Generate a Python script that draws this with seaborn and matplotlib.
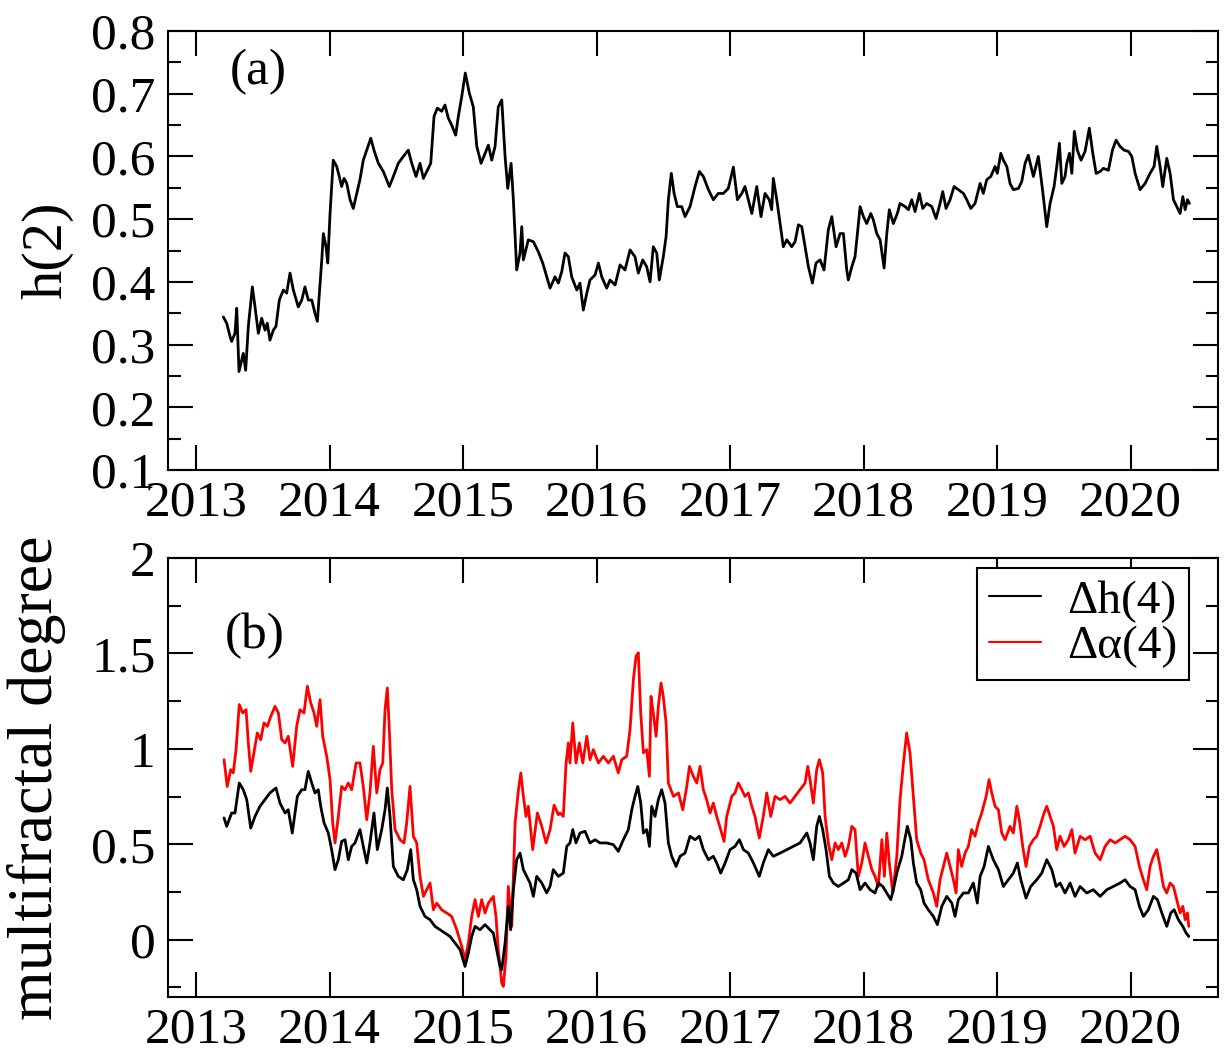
import numpy as np
import pandas as pd
import matplotlib
matplotlib.use("Agg")
import matplotlib.pyplot as plt
from matplotlib.ticker import MultipleLocator, FixedLocator, FuncFormatter
import seaborn as sns

# ---------------- data ----------------
h2_t = [2013.205, 2013.230, 2013.255, 2013.267, 2013.292, 2013.305, 2013.322, 2013.342, 2013.354, 2013.372,
        2013.392, 2013.422, 2013.442, 2013.467, 2013.492, 2013.517, 2013.534, 2013.554, 2013.579, 2013.599,
        2013.624, 2013.654, 2013.679, 2013.704, 2013.729, 2013.766, 2013.792, 2013.816, 2013.841, 2013.867,
        2013.891, 2013.909, 2013.942, 2013.954, 2013.974, 2013.987, 2014.004, 2014.028, 2014.054, 2014.073,
        2014.091, 2014.109, 2014.129, 2014.154, 2014.178, 2014.204, 2014.228, 2014.253, 2014.279, 2014.309,
        2014.333, 2014.366, 2014.403, 2014.448, 2014.478, 2014.515, 2014.553, 2014.590, 2014.616, 2014.648,
        2014.678, 2014.703, 2014.733, 2014.758, 2014.783, 2014.808, 2014.840, 2014.865, 2014.890, 2014.915,
        2014.945, 2014.965, 2014.990, 2015.017, 2015.047, 2015.077, 2015.103, 2015.135, 2015.165, 2015.190,
        2015.215, 2015.240, 2015.264, 2015.290, 2015.315, 2015.335, 2015.360, 2015.377, 2015.402, 2015.427,
        2015.440, 2015.452, 2015.489, 2015.527, 2015.564, 2015.597, 2015.627, 2015.652, 2015.689, 2015.714,
        2015.739, 2015.764, 2015.789, 2015.814, 2015.852, 2015.876, 2015.901, 2015.927, 2015.951, 2015.989,
        2016.014, 2016.039, 2016.076, 2016.101, 2016.139, 2016.176, 2016.213, 2016.251, 2016.288, 2016.313,
        2016.346, 2016.376, 2016.401, 2016.425, 2016.451, 2016.470, 2016.500, 2016.521, 2016.538, 2016.560,
        2016.581, 2016.605, 2016.638, 2016.663, 2016.700, 2016.738, 2016.770, 2016.800, 2016.838, 2016.875,
        2016.912, 2016.950, 2016.987, 2017.025, 2017.055, 2017.088, 2017.112, 2017.137, 2017.163, 2017.200,
        2017.232, 2017.262, 2017.294, 2017.312, 2017.324, 2017.350, 2017.375, 2017.399, 2017.425, 2017.462,
        2017.487, 2017.512, 2017.537, 2017.562, 2017.587, 2017.617, 2017.644, 2017.674, 2017.704, 2017.736,
        2017.762, 2017.794, 2017.824, 2017.849, 2017.874, 2017.886, 2017.912, 2017.936, 2017.954, 2017.974,
        2017.999, 2018.024, 2018.054, 2018.073, 2018.099, 2018.124, 2018.154, 2018.174, 2018.193, 2018.223,
        2018.253, 2018.273, 2018.311, 2018.336, 2018.361, 2018.386, 2018.418, 2018.443, 2018.473, 2018.511,
        2018.543, 2018.573, 2018.593, 2018.618, 2018.648, 2018.678, 2018.710, 2018.748, 2018.773, 2018.803,
        2018.835, 2018.873, 2018.897, 2018.923, 2018.953, 2018.985, 2019.002, 2019.028, 2019.047, 2019.073,
        2019.097, 2019.122, 2019.160, 2019.185, 2019.210, 2019.234, 2019.272, 2019.309, 2019.342, 2019.372,
        2019.397, 2019.427, 2019.447, 2019.467, 2019.485, 2019.509, 2019.522, 2019.542, 2019.560, 2019.579,
        2019.601, 2019.629, 2019.659, 2019.691, 2019.717, 2019.742, 2019.772, 2019.796, 2019.834, 2019.864,
        2019.891, 2019.921, 2019.951, 2019.984, 2020.009, 2020.034, 2020.071, 2020.109, 2020.146, 2020.176,
        2020.196, 2020.221, 2020.241, 2020.271, 2020.296, 2020.321, 2020.346, 2020.371, 2020.391, 2020.409,
        2020.426, 2020.441]
h2_v = [0.344, 0.334, 0.313, 0.305, 0.318, 0.358, 0.257, 0.275, 0.286, 0.259,
        0.329, 0.392, 0.360, 0.318, 0.342, 0.323, 0.334, 0.307, 0.323, 0.329,
        0.371, 0.387, 0.382, 0.414, 0.387, 0.360, 0.371, 0.392, 0.371, 0.371,
        0.350, 0.337, 0.435, 0.477, 0.456, 0.430, 0.509, 0.594, 0.584, 0.568,
        0.552, 0.565, 0.557, 0.531, 0.517, 0.541, 0.563, 0.594, 0.610, 0.629,
        0.610, 0.589, 0.576, 0.552, 0.568, 0.589, 0.600, 0.610, 0.589, 0.568,
        0.589, 0.565, 0.578, 0.589, 0.664, 0.677, 0.672, 0.682, 0.661, 0.650,
        0.634, 0.664, 0.695, 0.733, 0.701, 0.679, 0.616, 0.589, 0.605, 0.618,
        0.594, 0.616, 0.679, 0.690, 0.600, 0.549, 0.589, 0.531, 0.419, 0.446,
        0.488, 0.435, 0.467, 0.464, 0.448, 0.430, 0.408, 0.390, 0.408, 0.398,
        0.416, 0.446, 0.440, 0.408, 0.387, 0.398, 0.355, 0.382, 0.403, 0.411,
        0.430, 0.408, 0.390, 0.403, 0.395, 0.427, 0.419, 0.451, 0.440, 0.414,
        0.435, 0.424, 0.400, 0.456, 0.446, 0.403, 0.440, 0.472, 0.531, 0.573,
        0.541, 0.520, 0.520, 0.504, 0.520, 0.552, 0.576, 0.568, 0.547, 0.531,
        0.541, 0.541, 0.549, 0.583, 0.531, 0.541, 0.552, 0.531, 0.509, 0.552,
        0.504, 0.541, 0.531, 0.515, 0.565, 0.531, 0.493, 0.456, 0.467, 0.456,
        0.464, 0.491, 0.488, 0.456, 0.424, 0.398, 0.430, 0.435, 0.419, 0.483,
        0.504, 0.456, 0.477, 0.477, 0.419, 0.403, 0.424, 0.440, 0.477, 0.520,
        0.504, 0.493, 0.509, 0.499, 0.477, 0.467, 0.422, 0.477, 0.515, 0.493,
        0.509, 0.525, 0.520, 0.515, 0.531, 0.512, 0.541, 0.517, 0.525, 0.520,
        0.501, 0.525, 0.544, 0.517, 0.531, 0.552, 0.547, 0.541, 0.531, 0.517,
        0.525, 0.557, 0.541, 0.563, 0.568, 0.584, 0.573, 0.605, 0.594, 0.584,
        0.557, 0.547, 0.549, 0.560, 0.589, 0.602, 0.568, 0.600, 0.544, 0.488,
        0.525, 0.552, 0.584, 0.621, 0.557, 0.568, 0.589, 0.605, 0.573, 0.640,
        0.610, 0.594, 0.608, 0.645, 0.605, 0.573, 0.576, 0.581, 0.578, 0.610,
        0.626, 0.616, 0.610, 0.608, 0.600, 0.573, 0.547, 0.557, 0.573, 0.584,
        0.616, 0.584, 0.552, 0.597, 0.573, 0.531, 0.520, 0.509, 0.536, 0.515,
        0.531, 0.525]

dh_t = [2013.210, 2013.230, 2013.267, 2013.292, 2013.324, 2013.354, 2013.380, 2013.410, 2013.442, 2013.479,
        2013.517, 2013.554, 2013.599, 2013.629, 2013.667, 2013.691, 2013.721, 2013.759, 2013.792, 2013.816,
        2013.841, 2013.867, 2013.891, 2013.916, 2013.934, 2013.959, 2013.991, 2014.016, 2014.041, 2014.066,
        2014.091, 2014.116, 2014.141, 2014.166, 2014.191, 2014.228, 2014.253, 2014.279, 2014.303, 2014.333,
        2014.358, 2014.391, 2014.416, 2014.433, 2014.453, 2014.478, 2014.515, 2014.553, 2014.583, 2014.608,
        2014.628, 2014.653, 2014.678, 2014.715, 2014.753, 2014.790, 2014.828, 2014.865, 2014.903, 2014.940,
        2014.978, 2015.015, 2015.040, 2015.065, 2015.090, 2015.127, 2015.165, 2015.202, 2015.227, 2015.252,
        2015.277, 2015.290, 2015.315, 2015.339, 2015.357, 2015.377, 2015.402, 2015.427, 2015.452, 2015.477,
        2015.502, 2015.527, 2015.552, 2015.590, 2015.627, 2015.652, 2015.676, 2015.714, 2015.751, 2015.777,
        2015.801, 2015.822, 2015.846, 2015.876, 2015.914, 2015.951, 2015.989, 2016.026, 2016.076, 2016.126,
        2016.163, 2016.201, 2016.238, 2016.264, 2016.288, 2016.309, 2016.331, 2016.351, 2016.376, 2016.396,
        2016.413, 2016.438, 2016.463, 2016.488, 2016.513, 2016.538, 2016.563, 2016.596, 2016.625, 2016.663,
        2016.700, 2016.738, 2016.770, 2016.800, 2016.838, 2016.875, 2016.900, 2016.930, 2016.963, 2017.000,
        2017.037, 2017.070, 2017.100, 2017.137, 2017.175, 2017.219, 2017.249, 2017.287, 2017.324, 2017.375,
        2017.425, 2017.474, 2017.524, 2017.575, 2017.599, 2017.624, 2017.649, 2017.669, 2017.694, 2017.719,
        2017.744, 2017.774, 2017.811, 2017.849, 2017.886, 2017.912, 2017.944, 2017.974, 2018.011, 2018.049,
        2018.086, 2018.111, 2018.144, 2018.174, 2018.204, 2018.223, 2018.249, 2018.286, 2018.311, 2018.328,
        2018.354, 2018.373, 2018.398, 2018.428, 2018.453, 2018.485, 2018.523, 2018.553, 2018.586, 2018.623,
        2018.661, 2018.685, 2018.710, 2018.748, 2018.785, 2018.822, 2018.852, 2018.873, 2018.903, 2018.935,
        2018.972, 2019.010, 2019.047, 2019.085, 2019.122, 2019.152, 2019.178, 2019.217, 2019.252, 2019.297,
        2019.335, 2019.372, 2019.410, 2019.442, 2019.472, 2019.509, 2019.547, 2019.584, 2019.622, 2019.672,
        2019.721, 2019.772, 2019.822, 2019.871, 2019.921, 2019.959, 2019.996, 2020.034, 2020.066, 2020.096,
        2020.133, 2020.171, 2020.201, 2020.234, 2020.271, 2020.301, 2020.326, 2020.358, 2020.391, 2020.416,
        2020.436]
dh_v = [0.638, 0.594, 0.664, 0.664, 0.821, 0.786, 0.734, 0.585, 0.646, 0.699,
        0.734, 0.769, 0.795, 0.716, 0.664, 0.681, 0.559, 0.751, 0.786, 0.786,
        0.882, 0.821, 0.769, 0.786, 0.699, 0.612, 0.559, 0.472, 0.367, 0.419,
        0.515, 0.524, 0.419, 0.489, 0.507, 0.577, 0.489, 0.402, 0.507, 0.664,
        0.472, 0.577, 0.681, 0.795, 0.646, 0.384, 0.332, 0.314, 0.367, 0.472,
        0.314, 0.262, 0.175, 0.122, 0.105, 0.070, 0.052, 0.035, 0.017, -0.017,
        -0.052, -0.140, -0.070, 0.017, 0.070, 0.052, 0.079, 0.052, 0.035, -0.052,
        -0.140, -0.157, -0.017, 0.175, 0.052, 0.262, 0.419, 0.454, 0.367, 0.332,
        0.297, 0.227, 0.332, 0.297, 0.245, 0.280, 0.367, 0.332, 0.349, 0.489,
        0.507, 0.577, 0.507, 0.559, 0.568, 0.507, 0.524, 0.507, 0.507, 0.498,
        0.463, 0.524, 0.577, 0.681, 0.751, 0.803, 0.716, 0.559, 0.577, 0.489,
        0.699, 0.646, 0.734, 0.786, 0.716, 0.507, 0.437, 0.384, 0.437, 0.454,
        0.542, 0.524, 0.542, 0.472, 0.419, 0.437, 0.402, 0.349, 0.402, 0.472,
        0.489, 0.524, 0.472, 0.454, 0.402, 0.332, 0.402, 0.472, 0.437, 0.454,
        0.472, 0.489, 0.507, 0.559, 0.507, 0.419, 0.594, 0.646, 0.577, 0.472,
        0.332, 0.297, 0.279, 0.297, 0.314, 0.367, 0.349, 0.262, 0.297, 0.262,
        0.245, 0.297, 0.279, 0.245, 0.210, 0.262, 0.349, 0.437, 0.533, 0.594,
        0.524, 0.402, 0.297, 0.262, 0.192, 0.157, 0.122, 0.079, 0.175, 0.227,
        0.192, 0.122, 0.210, 0.245, 0.245, 0.297, 0.192, 0.332, 0.384, 0.489,
        0.419, 0.367, 0.279, 0.314, 0.349, 0.402, 0.314, 0.218, 0.279, 0.314,
        0.349, 0.419, 0.367, 0.279, 0.297, 0.245, 0.297, 0.227, 0.279, 0.245,
        0.262, 0.227, 0.262, 0.279, 0.297, 0.314, 0.279, 0.262, 0.175, 0.122,
        0.157, 0.227, 0.210, 0.140, 0.070, 0.140, 0.157, 0.105, 0.070, 0.035,
        0.017]

da_t = [2013.210, 2013.234, 2013.260, 2013.279, 2013.300, 2013.324, 2013.350, 2013.375, 2013.392, 2013.410,
        2013.434, 2013.459, 2013.485, 2013.509, 2013.534, 2013.560, 2013.592, 2013.617, 2013.642, 2013.667,
        2013.691, 2013.724, 2013.754, 2013.779, 2013.809, 2013.834, 2013.859, 2013.884, 2013.904, 2013.929,
        2013.949, 2013.979, 2014.004, 2014.024, 2014.041, 2014.066, 2014.091, 2014.116, 2014.141, 2014.166,
        2014.199, 2014.228, 2014.253, 2014.279, 2014.303, 2014.328, 2014.354, 2014.378, 2014.399, 2014.416,
        2014.433, 2014.448, 2014.466, 2014.491, 2014.528, 2014.558, 2014.578, 2014.603, 2014.628, 2014.653,
        2014.678, 2014.703, 2014.728, 2014.753, 2014.778, 2014.803, 2014.840, 2014.878, 2014.915, 2014.953,
        2014.990, 2015.015, 2015.040, 2015.065, 2015.090, 2015.115, 2015.140, 2015.165, 2015.190, 2015.227,
        2015.247, 2015.264, 2015.290, 2015.302, 2015.322, 2015.339, 2015.365, 2015.390, 2015.415, 2015.433,
        2015.452, 2015.472, 2015.489, 2015.522, 2015.557, 2015.590, 2015.622, 2015.652, 2015.682, 2015.714,
        2015.727, 2015.751, 2015.772, 2015.789, 2015.801, 2015.822, 2015.846, 2015.871, 2015.897, 2015.927,
        2015.951, 2015.976, 2016.014, 2016.051, 2016.089, 2016.126, 2016.163, 2016.189, 2016.226, 2016.251,
        2016.276, 2016.296, 2016.313, 2016.331, 2016.351, 2016.376, 2016.396, 2016.408, 2016.425, 2016.446,
        2016.463, 2016.483, 2016.500, 2016.521, 2016.538, 2016.576, 2016.614, 2016.646, 2016.676, 2016.696,
        2016.725, 2016.751, 2016.775, 2016.800, 2016.825, 2016.850, 2016.875, 2016.900, 2016.930, 2016.955,
        2016.975, 2017.013, 2017.037, 2017.062, 2017.088, 2017.112, 2017.137, 2017.163, 2017.187, 2017.219,
        2017.249, 2017.275, 2017.305, 2017.337, 2017.375, 2017.412, 2017.449, 2017.487, 2017.524, 2017.562,
        2017.582, 2017.599, 2017.624, 2017.649, 2017.669, 2017.694, 2017.712, 2017.736, 2017.762, 2017.787,
        2017.811, 2017.837, 2017.862, 2017.886, 2017.912, 2017.936, 2017.961, 2017.987, 2018.011, 2018.036,
        2018.062, 2018.086, 2018.111, 2018.137, 2018.156, 2018.174, 2018.193, 2018.219, 2018.249, 2018.273,
        2018.298, 2018.323, 2018.348, 2018.373, 2018.398, 2018.428, 2018.453, 2018.485, 2018.523, 2018.548,
        2018.573, 2018.598, 2018.623, 2018.648, 2018.673, 2018.693, 2018.710, 2018.735, 2018.760, 2018.785,
        2018.810, 2018.835, 2018.860, 2018.885, 2018.918, 2018.940, 2018.960, 2018.985, 2019.010, 2019.035,
        2019.060, 2019.097, 2019.122, 2019.148, 2019.167, 2019.192, 2019.217, 2019.242, 2019.272, 2019.297,
        2019.322, 2019.352, 2019.372, 2019.397, 2019.422, 2019.447, 2019.472, 2019.502, 2019.534, 2019.560,
        2019.584, 2019.622, 2019.659, 2019.697, 2019.734, 2019.772, 2019.809, 2019.847, 2019.884, 2019.921,
        2019.959, 2019.996, 2020.034, 2020.066, 2020.096, 2020.121, 2020.146, 2020.171, 2020.196, 2020.221,
        2020.246, 2020.271, 2020.296, 2020.321, 2020.346, 2020.371, 2020.391, 2020.409, 2020.426, 2020.436]
da_v = [0.943, 0.803, 0.891, 0.874, 0.996, 1.232, 1.188, 1.205, 1.031, 0.882,
        0.979, 1.083, 1.048, 1.136, 1.118, 1.170, 1.223, 1.188, 1.048, 1.031,
        1.066, 0.908, 1.118, 1.205, 1.188, 1.328, 1.241, 1.188, 1.118, 1.258,
        1.066, 0.961, 0.839, 0.612, 0.507, 0.646, 0.803, 0.786, 0.821, 0.786,
        0.926, 0.926, 0.803, 0.629, 0.769, 1.013, 0.769, 0.891, 0.926, 1.205,
        1.319, 1.101, 0.786, 0.577, 0.524, 0.507, 0.612, 0.803, 0.542, 0.507,
        0.332, 0.227, 0.262, 0.297, 0.157, 0.192, 0.157, 0.140, 0.122, 0.052,
        -0.035, -0.105, -0.017, 0.122, 0.210, 0.122, 0.210, 0.140, 0.192, 0.227,
        0.122, -0.052, -0.227, -0.245, -0.087, 0.279, 0.070, 0.612, 0.786, 0.874,
        0.751, 0.646, 0.699, 0.472, 0.664, 0.594, 0.507, 0.577, 0.705, 0.655,
        0.664, 0.646, 0.926, 1.031, 0.926, 1.136, 0.926, 1.031, 0.926, 1.066,
        0.943, 0.996, 0.926, 0.961, 0.926, 0.961, 0.874, 0.943, 0.961, 1.101,
        1.363, 1.485, 1.503, 1.188, 0.979, 0.996, 0.856, 1.275, 1.188, 1.066,
        1.223, 1.345, 1.275, 1.136, 0.821, 0.751, 0.769, 0.681, 0.803, 0.908,
        0.856, 0.821, 0.908, 0.786, 0.734, 0.664, 0.716, 0.646, 0.577, 0.515,
        0.646, 0.751, 0.769, 0.821, 0.786, 0.751, 0.769, 0.699, 0.646, 0.533,
        0.646, 0.769, 0.646, 0.751, 0.734, 0.751, 0.716, 0.751, 0.786, 0.821,
        0.908, 0.839, 0.716, 0.891, 0.943, 0.874, 0.646, 0.507, 0.419, 0.507,
        0.472, 0.507, 0.437, 0.489, 0.594, 0.577, 0.332, 0.402, 0.507, 0.437,
        0.367, 0.332, 0.279, 0.524, 0.332, 0.559, 0.402, 0.245, 0.437, 0.730,
        0.920, 1.083, 0.979, 0.751, 0.524, 0.454, 0.419, 0.314, 0.245, 0.175,
        0.314, 0.384, 0.454, 0.384, 0.314, 0.245, 0.472, 0.384, 0.454, 0.489,
        0.577, 0.542, 0.612, 0.664, 0.751, 0.839, 0.769, 0.699, 0.681, 0.559,
        0.524, 0.594, 0.559, 0.699, 0.629, 0.489, 0.384, 0.489, 0.524, 0.542,
        0.594, 0.664, 0.699, 0.646, 0.594, 0.472, 0.542, 0.489, 0.524, 0.577,
        0.454, 0.542, 0.524, 0.542, 0.454, 0.419, 0.489, 0.524, 0.507, 0.524,
        0.542, 0.524, 0.489, 0.384, 0.314, 0.262, 0.384, 0.437, 0.472, 0.384,
        0.279, 0.245, 0.297, 0.279, 0.210, 0.140, 0.175, 0.105, 0.140, 0.070]

year_ticks = [2013, 2014, 2015, 2016, 2017, 2018, 2019, 2020]
year_labels = ["2013", "2014", "2015", "2016", "2017", "2018", "2019", "2020"]

# ---------------- style ----------------
sns.set_style("ticks")
plt.rcParams["font.family"] = ["Liberation Serif", "DejaVu Serif"]
for key in ("text.color", "axes.labelcolor", "xtick.color", "ytick.color",
            "axes.edgecolor"):
    plt.rcParams[key] = "black"
plt.rcParams["axes.linewidth"] = 1.5

TICK_FS = 37
LW = 2.0
fig = plt.figure(figsize=(12.26, 10.51), dpi=100)
ax1 = fig.add_axes([0.1370, 0.5528, 0.8565, 0.4177])
ax2 = fig.add_axes([0.1370, 0.0514, 0.8565, 0.4177])

df_top = pd.DataFrame({"t": h2_t, "v": h2_v})
sns.lineplot(data=df_top, x="t", y="v", ax=ax1, color="black", lw=LW,
             estimator=None, sort=False)

df_dh = pd.DataFrame({"t": dh_t, "v": dh_v})
df_da = pd.DataFrame({"t": da_t, "v": da_v})
sns.lineplot(data=df_da, x="t", y="v", ax=ax2, color="#ff0000", lw=LW,
             estimator=None, sort=False, label="\u0394\u03b1(4)")
sns.lineplot(data=df_dh, x="t", y="v", ax=ax2, color="black", lw=LW,
             estimator=None, sort=False, label="\u0394h(4)")

for ax in (ax1, ax2):
    ax.set_xlim(2012.790, 2020.655)
    ax.xaxis.set_major_locator(FixedLocator(year_ticks))
    ax.set_xticklabels(year_labels)
    ax.tick_params(axis="both", which="both", direction="in", top=True, right=True,
                   width=1.5, labelsize=TICK_FS, colors="black")
    ax.tick_params(axis="both", which="major", length=18)
    ax.tick_params(axis="y", which="minor", length=9)
    ax.tick_params(axis="x", which="major", pad=7)
    ax.tick_params(axis="y", which="major", pad=9)
    ax.set_xlabel("")
    for s in ax.spines.values():
        s.set_linewidth(1.5)
        s.set_color("black")

ax1.set_ylim(0.1, 0.8)
ax1.yaxis.set_major_locator(MultipleLocator(0.1))
ax1.yaxis.set_minor_locator(MultipleLocator(0.05))
ax1.yaxis.set_major_formatter(FuncFormatter(lambda v, p: f"{v:.1f}"))
ax1.set_ylabel("h(2)", fontsize=42, color="black")
ax1.yaxis.set_label_coords(-0.090, 0.5)

ax2.set_ylim(-0.3, 2.0)
ax2.yaxis.set_major_locator(MultipleLocator(0.5))
ax2.yaxis.set_minor_locator(MultipleLocator(0.25))
ax2.yaxis.set_major_formatter(FuncFormatter(lambda v, p: ("%g" % round(v, 2))))
ax2.set_ylabel("multifractal degree", fontsize=46, color="black")
ax2.yaxis.set_label_coords(-0.097, 0.5)

ax1.text(0.059, 0.906, "(a)", transform=ax1.transAxes, fontsize=37,
         ha="left", va="center", color="black")
ax2.text(0.054, 0.822, "(b)", transform=ax2.transAxes, fontsize=37,
         ha="left", va="center", color="black")

handles, labels = ax2.get_legend_handles_labels()
order = [labels.index("\u0394h(4)"), labels.index("\u0394\u03b1(4)")]
leg = ax2.legend([handles[i] for i in order], [labels[i] for i in order],
                 loc="upper right", bbox_to_anchor=(0.9724, 0.9772),
                 fontsize=34, frameon=True, fancybox=False, shadow=False,
                 handlelength=1.1, handletextpad=0.55, labelspacing=0.05,
                 borderpad=0.25, borderaxespad=0.0)
leg.get_frame().set_edgecolor("black")
leg.get_frame().set_linewidth(1.5)
leg.get_frame().set_alpha(1.0)
for txt in leg.get_texts():
    txt.set_color("black")
for ln in leg.get_lines():
    ln.set_linewidth(1.5)

fig.savefig("out.png", dpi=100)
